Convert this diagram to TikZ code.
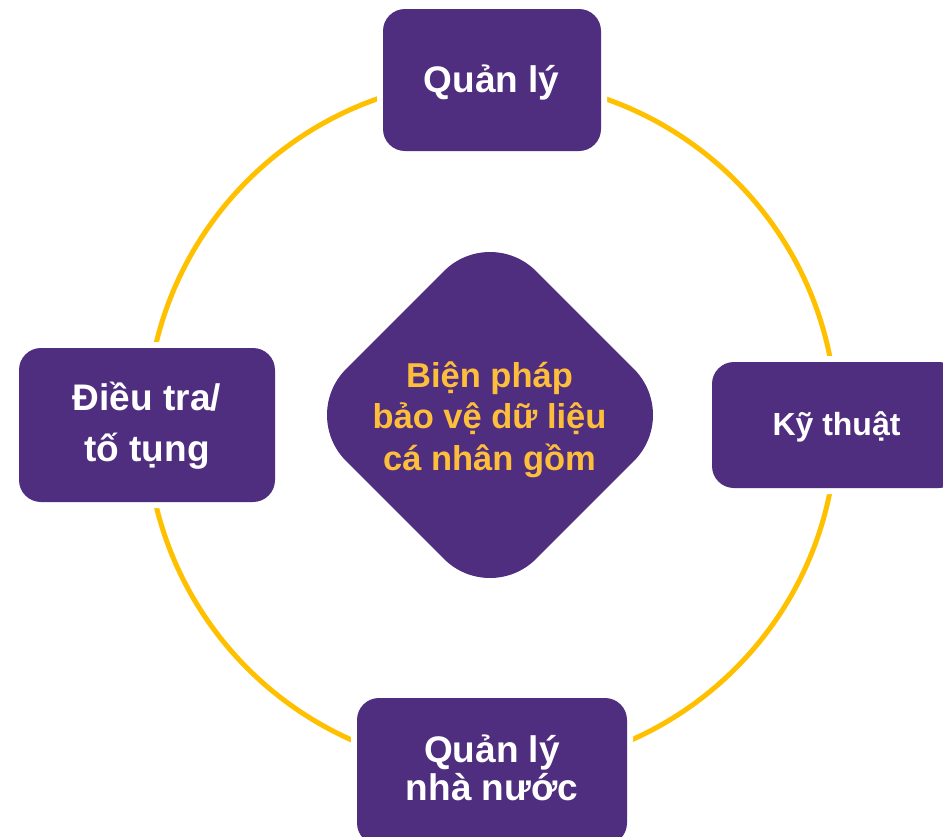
\documentclass[tikz,border=0pt]{standalone}
\usepackage{fontspec}
\setmainfont{Liberation Sans}
\usetikzlibrary{shapes.geometric}
\definecolor{purp}{HTML}{4F2D7F}
\definecolor{ring}{HTML}{FFC000}
\definecolor{gold}{HTML}{FDBF3B}
\begin{document}
\begin{tikzpicture}[x=1pt,y=-1pt,
  box/.style={fill=purp, rounded corners=22pt, inner sep=0pt,
    preaction={draw=white, line width=12pt}},
  lbl/.style={text=white, inner sep=0pt, align=center,
    font=\bfseries\fontsize{37}{51}\selectfont},
  lbltight/.style={lbl, font=\bfseries\fontsize{37}{38}\selectfont},
  corelbl/.style={text=gold, inner sep=0pt, align=center,
    font=\bfseries\fontsize{34.5}{41.5}\selectfont}]
\clip (0,0) rectangle (943,836);
\useasboundingbox (0,0) rectangle (943,836);
\coordinate (o) at (491.5,424.5);
\draw[ring, line width=5pt] (o) circle (345pt);
\node[box, minimum width=218pt, minimum height=142pt] (top) at (492,80) {};
\node[box, minimum width=256pt, minimum height=154pt] (left) at (147,425) {};
\node[box, minimum width=249pt, minimum height=126pt] (right) at (836.5,425) {};
\node[box, minimum width=270pt, minimum height=147pt] (bottom) at (492,771.5) {};
\node[diamond, aspect=1, fill=purp, rounded corners=65pt, inner sep=0pt,
  minimum width=380pt, minimum height=380pt] (core) at (490,415) {};
\node[lbl, anchor=base] (ttop) at (491.5,92) {Quản lý};
\node[lbl, anchor=base] (tleft) at (147,461.5) {Điều tra/\\tố tụng};
\node[lbl, anchor=base, font=\bfseries\fontsize{32}{40}\selectfont] (tright) at (836.5,435) {Kỹ thuật};
\node[lbltight, anchor=base] (tbottom) at (492,800) {Quản lý\\nhà nước};
\node[corelbl, anchor=base] (tcore) at (489.5,470) {Biện pháp\\bảo vệ dữ liệu\\cá nhân gồm};
\end{tikzpicture}
\end{document}
